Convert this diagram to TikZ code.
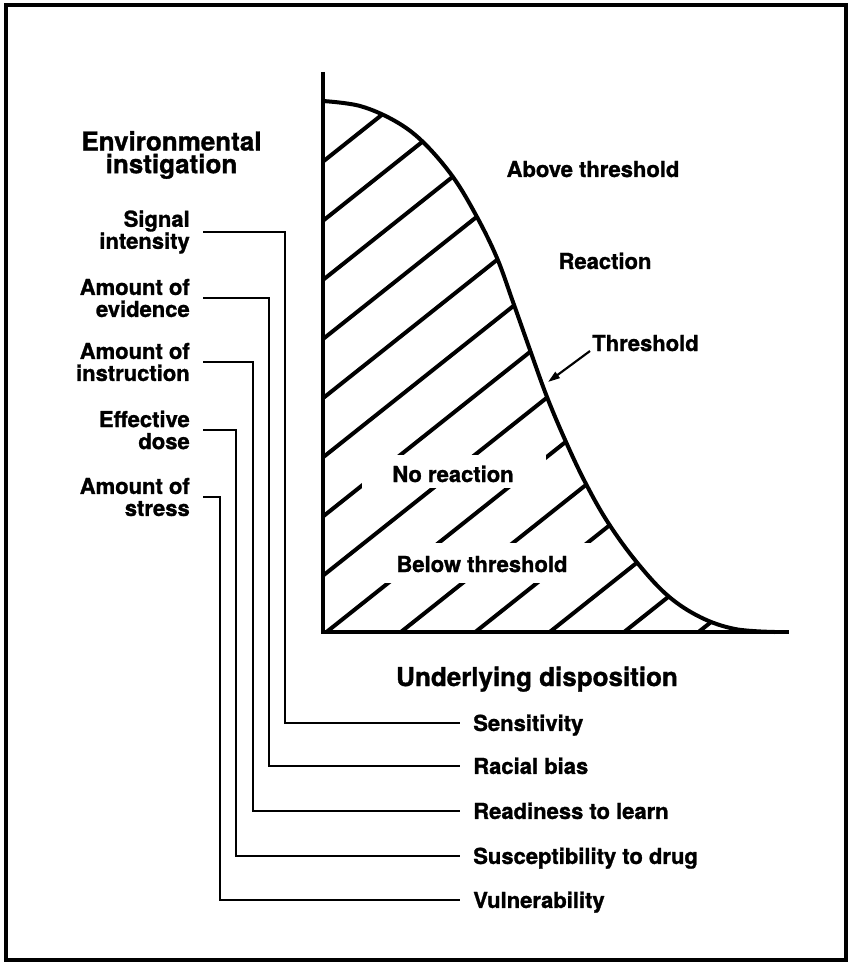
\documentclass[tikz,border=0pt]{standalone}
\usepackage{fontspec}
\setmainfont{TeX Gyre Heros}[BoldFeatures={FakeBold=1.2}]
\usetikzlibrary{arrows.meta}

\tikzset{
  lab/.style={font=\fontsize{16.5}{16.5}\selectfont\bfseries, inner sep=0pt},
  leftlab/.style={lab, align=right, anchor=east, inner xsep=9.75pt},
  rightlab/.style={lab, anchor=west, inner xsep=9.75pt, text height=11.9pt, text depth=0pt},
  head/.style={font=\fontsize{19.5}{17}\selectfont\bfseries, inner sep=0pt},
  conn/.style={line width=2.2pt, line join=miter},
  hatchline/.style={line width=3pt},
  axisline/.style={line width=3pt, line join=miter},
  curveline/.style={line width=3pt},
  pointer/.style={line width=1.6pt, -{Triangle[length=9pt,width=5.5pt]}},
}

\def\threshcurve{(323,101) (360,106) (395,121) (423,142) (453,177) (477,217) (497,258) (513,302) (530,350) (547,397) (566,442) (585,482) (607,521) (635,560) (667,595) (700,617) (735,629) (775,632)}

\begin{document}
\begin{tikzpicture}[x=0.75pt, y=-0.75pt]
\useasboundingbox (0,0) rectangle (849,962);

% outer frame
\draw[line width=3pt] (5.5,5.5) rectangle (845.5,959.5);

% hatching below the threshold curve
\begin{scope}
  \clip (323,632) -- plot[smooth, tension=0.6] coordinates {\threshcurve} -- cycle;
  \foreach \k in {-9,...,6}
    \draw[hatchline] ({324+74.4*\k},634) -- ++(700,-556.5);
  % clear bands behind the region labels
  \fill[white] (362,455) rectangle (546,488);
  \fill[white] (380,543) rectangle (596,583);
\end{scope}

% threshold curve
\draw[curveline] plot[smooth, tension=0.6] coordinates {\threshcurve};

% axes
\draw[axisline] (323,72) -- (323,632) -- (789,632);

% region labels
\node[lab, anchor=base] (above) at (593,177) {Above threshold};
\node[lab, anchor=base] (react) at (605,269) {Reaction};
\node[lab, anchor=base west] (thr) at (592,351) {Threshold};
\node[lab, anchor=base] (noreact) at (453,482) {No reaction};
\node[lab, anchor=base] (below) at (482,572) {Below threshold};
\coordinate (thrtip) at (548,382);
\draw[pointer] ([shift={(-2,0)}]thr.base west) -- (thrtip);

% headings
\node[head, align=center] (envhead) at (171.5,155) {Environmental\\instigation};
\node[head, anchor=base] (disphead) at (537,686) {Underlying disposition};

% environmental instigation labels
\node[leftlab] (sig) at (203,232) {Signal\\intensity};
\node[leftlab] (evid) at (203,298) {Amount of\\evidence};
\node[leftlab] (instr) at (203,362) {Amount of\\instruction};
\node[leftlab] (dose) at (203,430) {Effective\\dose};
\node[leftlab] (stress) at (203,497) {Amount of\\stress};

% underlying disposition labels
\node[rightlab] (sens) at (460,723) {Sensitivity};
\node[rightlab] (bias) at (460,766) {Racial bias};
\node[rightlab] (ready) at (460,811) {Readiness to learn};
\node[rightlab] (susc) at (460,856) {Susceptibility to drug};
\node[rightlab] (vuln) at (460,900) {Vulnerability};

% pairings
\draw[conn] (sig.east) -- (285,0 |- sig.east) -- (285,0 |- sens.west) -- (sens.west);
\draw[conn] (evid.east) -- (269,0 |- evid.east) -- (269,0 |- bias.west) -- (bias.west);
\draw[conn] (instr.east) -- (253,0 |- instr.east) -- (253,0 |- ready.west) -- (ready.west);
\draw[conn] (dose.east) -- (236,0 |- dose.east) -- (236,0 |- susc.west) -- (susc.west);
\draw[conn] (stress.east) -- (220,0 |- stress.east) -- (220,0 |- vuln.west) -- (vuln.west);
\end{tikzpicture}
\end{document}
